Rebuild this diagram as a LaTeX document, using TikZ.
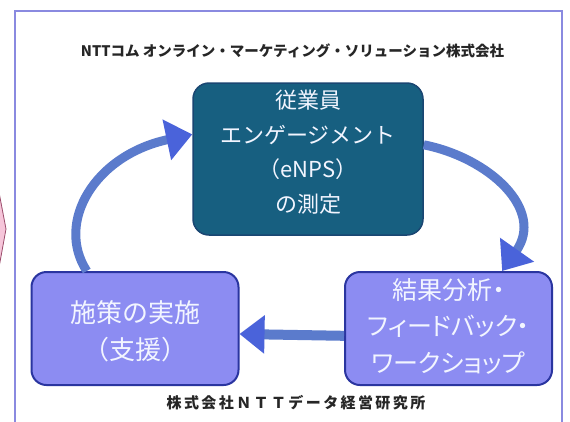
\documentclass[tikz,border=0pt]{standalone}
\usepackage{fontspec}
\setmainfont{Noto Sans CJK JP}
\newfontfamily\paltfont[RawFeature=+palt]{Noto Sans CJK JP}
\usetikzlibrary{arrows.meta}
\definecolor{framec}{HTML}{8A8AE0}
\definecolor{topfill}{HTML}{175F80}
\definecolor{topedge}{HTML}{1A4672}
\definecolor{boxfill}{HTML}{8C8CF2}
\definecolor{boxedge}{HTML}{2A35A0}
\definecolor{shaftc}{HTML}{5B7BCC}
\definecolor{headc}{HTML}{4A63DA}
\definecolor{pinkf}{HTML}{F6C6DA}
\definecolor{pinke}{HTML}{9A4A6A}
\definecolor{labc}{HTML}{F2F5FF}
\begin{document}
\begin{tikzpicture}[x=1pt,y=-1pt,
  topbox/.style={draw=topedge, line width=1.5pt, fill=topfill, rounded corners=16pt,
    minimum width=230pt, minimum height=152pt, inner sep=0pt},
  sidebox/.style={draw=boxedge, line width=2pt, fill=boxfill, rounded corners=15pt,
    minimum width=207pt, minimum height=113pt, inner sep=0pt},
  toptext/.style={text=labc, align=center, inner sep=0pt, font=\fontsize{22}{34.5}\selectfont},
  sidetext/.style={text=labc, align=center, inner sep=0pt, font=\paltfont\fontsize{25}{36.5}\selectfont},
  caption/.style={text=black!85, inner sep=0pt, font=\bfseries\fontsize{14.5}{18}\selectfont},
  arr/.style={draw=shaftc, line width=9pt,
    -{Triangle[length=26pt, width=40pt, color=headc]}},
]
\useasboundingbox (0,0) rectangle (570,421);
\fill[white] (0,0) rectangle (570,421);
% partial neighbouring shape at the left edge
\draw[pinke, fill=pinkf, line width=0.8pt] (-2,187) -- (6,229) -- (-2,273);
% frame
\draw[framec, line width=1.5pt] (15,425) -- (15,11) -- (562,11) -- (562,425);

\node[caption] (header) at (292.5,51) {NTTコム オンライン・マーケティング・ソリューション株式会社};
\node[caption, font=\bfseries\fontsize{15}{18}\selectfont\addfontfeatures{LetterSpace=16}] (footer) at (296,403) {株式会社ＮＴＴデータ経営研究所};

\node[topbox] (tnode) at (308,159) {};
\node[sidebox] (lnode) at (135,328.5) {};
\node[sidebox] (rnode) at (448.5,328.5) {};

\node[toptext] (tlabel) at (308,152) {従業員\\エンゲージメント\\（eNPS）\\の測定};
\node[sidetext, font=\fontsize{26}{37}\selectfont] (llabel) at (135,331) {施策の実施\\（支援）};
\node[sidetext] (rlabel) at (448.5,326) {結果分析・\\フィードバック・\\ワークショップ};

\draw[arr] (lnode.130) .. controls (55,222) and (95,155) .. (tnode.168);
\draw[arr] (tnode.7) .. controls (490,158) and (545,210) .. (rnode.47);
\draw[arr, line width=10pt, -{Triangle[length=25pt, width=37pt, color=headc]}] (rnode.184) -- (lnode.-3);
\end{tikzpicture}
\end{document}
